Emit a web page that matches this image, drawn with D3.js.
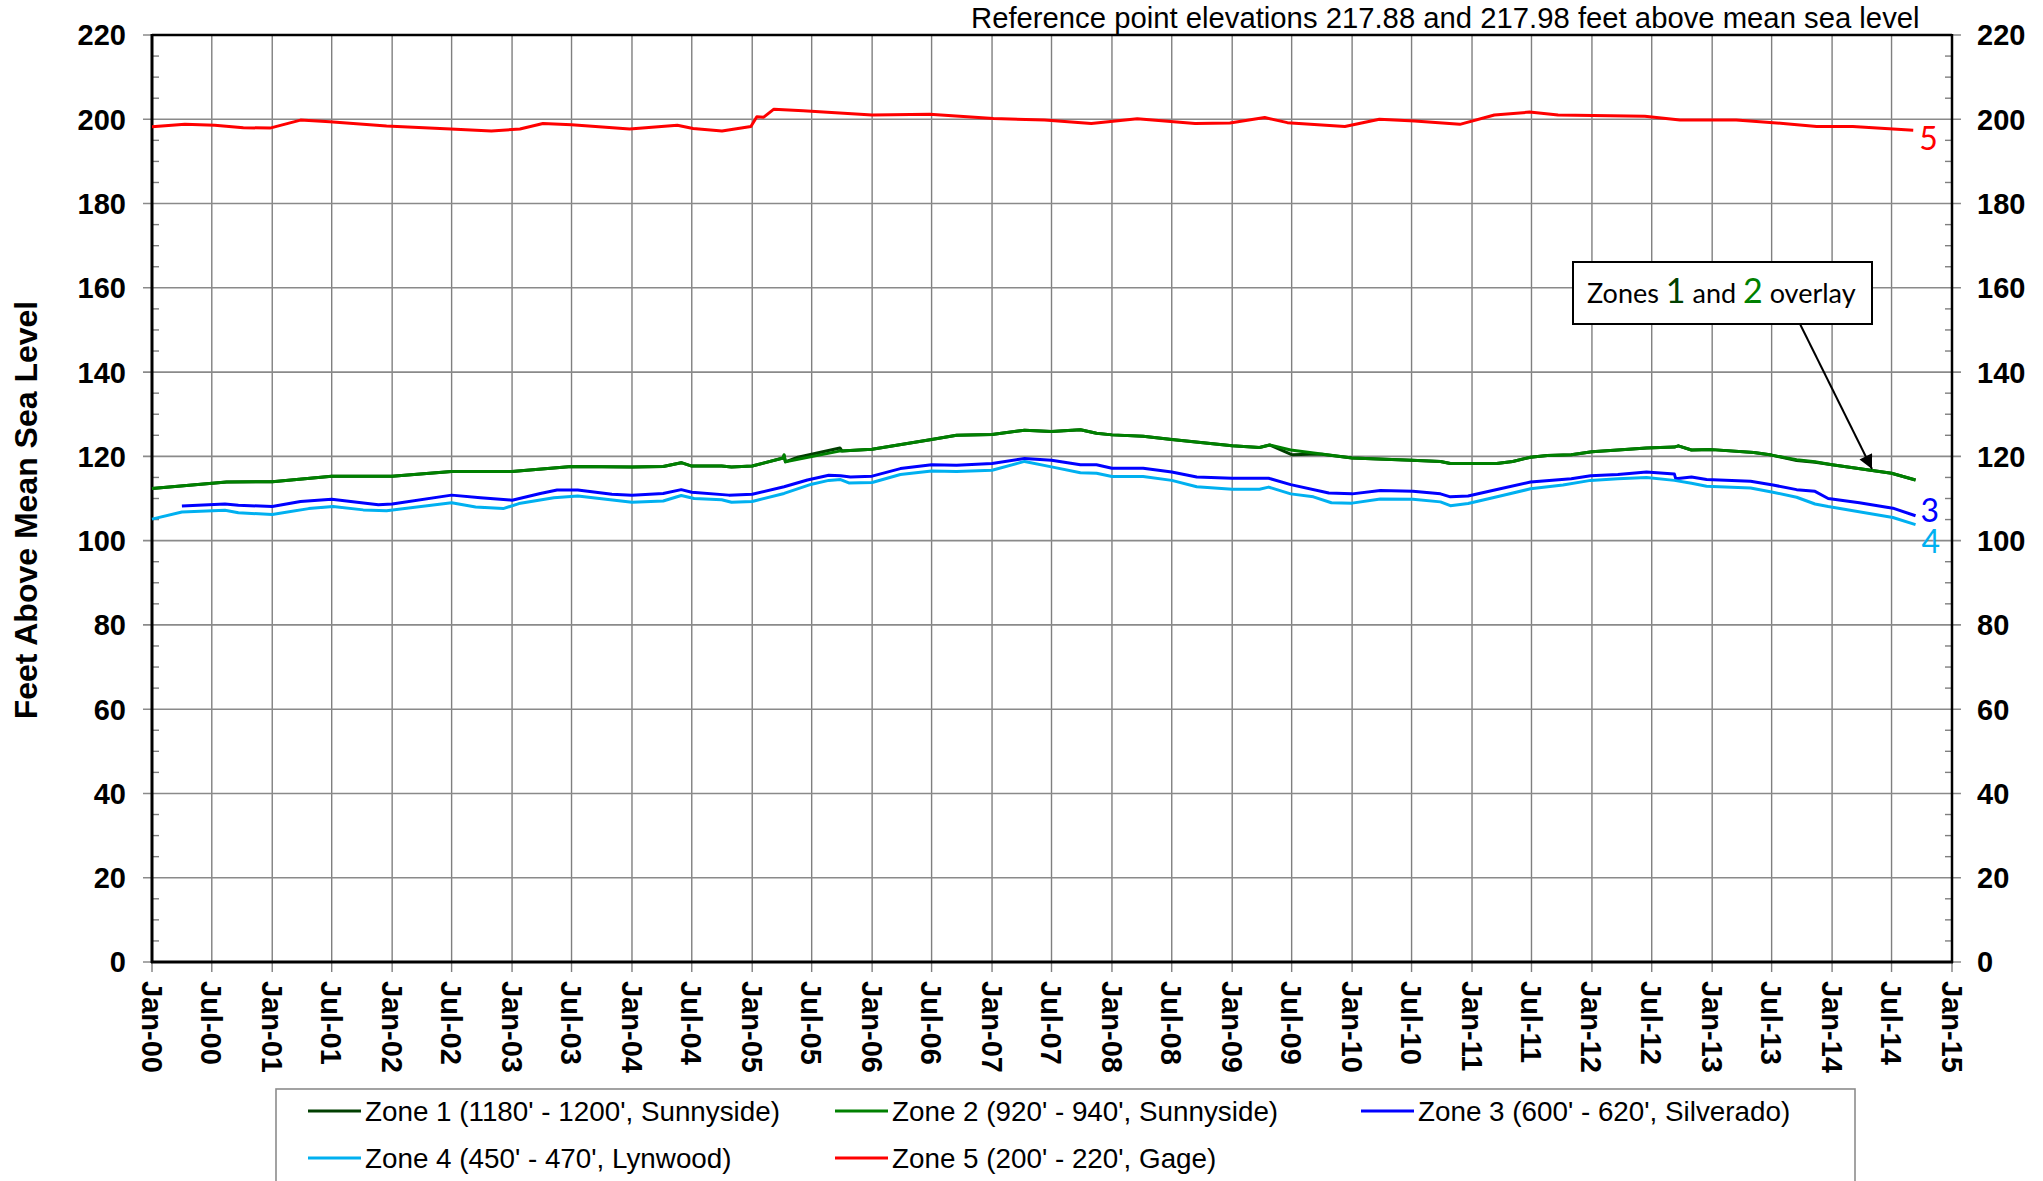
<!DOCTYPE html>
<html>
<head>
<meta charset="utf-8">
<script src="https://cdn.jsdelivr.net/npm/d3@7"></script>
<style>
  html, body { margin: 0; padding: 0; background: #fff; }
  svg { display: block; }
</style>
</head>
<body>
<script>
// ---------------- DATA ----------------
const titleText = "Reference point elevations 217.88 and 217.98 feet above mean sea level";
const yAxisTitle = "Feet Above Mean Sea Level";
const yTicks = [0, 20, 40, 60, 80, 100, 120, 140, 160, 180, 200, 220];
const xDomain = ["2000-01-01", "2015-01-01"];

const seriesNames = [
  "Zone 1 (1180' - 1200', Sunnyside)",
  "Zone 2 (920' - 940', Sunnyside)",
  "Zone 3 (600' - 620', Silverado)",
  "Zone 4 (450' - 470', Lynwood)",
  "Zone 5 (200' - 220', Gage)"
];
const seriesColors = ["#003f00", "#008000", "#0000ff", "#00b0f0", "#ff0000"];

const zone1 = [
  ["2000-01-01",112.4],["2000-08-15",113.9],["2001-01-01",114.0],["2001-07-01",115.3],["2002-01-01",115.3],
  ["2002-07-01",116.4],["2003-01-01",116.4],["2003-07-01",117.6],["2004-01-01",117.5],["2004-04-05",117.6],
  ["2004-05-30",118.5],["2004-07-01",117.7],["2004-09-30",117.7],["2004-10-30",117.5],["2005-01-01",117.7],
  ["2005-04-05",119.6],["2005-04-08",120.2],["2005-04-12",118.7],["2005-05-20",119.8],["2005-09-25",122.0],
  ["2005-10-01",121.3],["2006-01-01",121.7],["2006-07-01",124.0],["2006-09-15",125.0],["2007-01-01",125.2],
  ["2007-04-10",126.2],["2007-07-01",125.9],["2007-09-27",126.3],["2007-11-15",125.5],["2008-01-01",125.1],
  ["2008-04-05",124.8],["2008-07-01",124.0],["2009-01-01",122.5],["2009-03-25",122.1],["2009-04-25",122.7],
  ["2009-07-01",120.4],["2009-08-25",120.5],["2009-10-01",120.5],["2010-01-01",119.6],["2010-07-01",119.1],
  ["2010-09-27",118.8],["2010-10-27",118.3],["2011-03-17",118.3],["2011-05-05",118.8],["2011-06-28",119.8],
  ["2011-08-18",120.2],["2011-10-30",120.4],["2012-01-01",121.1],["2012-03-20",121.5],["2012-06-15",122.0],
  ["2012-09-08",122.2],["2012-09-20",122.5],["2012-10-30",121.5],["2013-01-01",121.6],["2013-05-08",120.9],
  ["2013-07-01",120.3],["2013-09-15",119.0],["2013-11-10",118.6],["2014-01-01",118.0],["2014-07-01",116.0],
  ["2014-09-12",114.4]
];
const zone2 = [
  ["2000-01-01",112.4],["2000-08-15",113.9],["2001-01-01",114.0],["2001-07-01",115.3],["2002-01-01",115.3],
  ["2002-07-01",116.4],["2003-01-01",116.4],["2003-07-01",117.6],["2004-01-01",117.5],["2004-04-05",117.6],
  ["2004-05-30",118.5],["2004-07-01",117.7],["2004-09-30",117.7],["2004-10-30",117.5],["2005-01-01",117.7],
  ["2005-04-05",119.6],["2005-04-08",120.4],["2005-04-12",118.7],["2005-09-27",121.3],["2006-01-01",121.7],
  ["2006-07-01",124.0],["2006-09-15",125.0],["2007-01-01",125.2],["2007-04-10",126.2],["2007-07-01",125.9],
  ["2007-09-27",126.3],["2007-11-15",125.5],["2008-01-01",125.1],["2008-04-05",124.8],["2008-07-01",124.0],
  ["2009-01-01",122.5],["2009-03-25",122.1],["2009-04-25",122.7],["2009-06-28",121.5],["2010-01-01",119.6],
  ["2010-07-01",119.1],["2010-09-27",118.8],["2010-10-27",118.3],["2011-03-17",118.3],["2011-05-05",118.8],
  ["2011-06-28",119.8],["2011-08-18",120.2],["2011-10-30",120.4],["2012-01-01",121.1],["2012-03-20",121.5],
  ["2012-06-15",122.0],["2012-09-08",122.2],["2012-09-20",122.5],["2012-10-30",121.5],["2013-01-01",121.6],
  ["2013-05-08",120.9],["2013-07-01",120.3],["2013-09-15",119.2],["2013-11-10",118.7],["2014-01-01",118.0],
  ["2014-07-01",116.0],["2014-09-12",114.4]
];
const zone3 = [
  ["2000-04-01",108.2],["2000-08-10",108.7],["2000-09-20",108.4],["2001-01-01",108.1],["2001-03-28",109.3],
  ["2001-07-01",109.8],["2001-08-28",109.3],["2001-11-20",108.5],["2002-01-01",108.7],["2002-07-01",110.8],
  ["2002-09-27",110.2],["2003-01-01",109.6],["2003-03-28",111.2],["2003-05-18",112.0],["2003-07-20",112.0],
  ["2003-11-01",111.0],["2004-01-01",110.8],["2004-04-05",111.2],["2004-05-30",112.1],["2004-07-01",111.5],
  ["2004-10-22",110.8],["2005-01-01",111.0],["2005-04-08",112.8],["2005-06-18",114.4],["2005-08-22",115.5],
  ["2005-09-27",115.4],["2005-10-27",115.1],["2006-01-01",115.3],["2006-03-28",117.1],["2006-07-01",118.0],
  ["2006-09-15",117.9],["2007-01-01",118.3],["2007-04-10",119.5],["2007-07-01",119.1],["2007-09-27",118.0],
  ["2007-11-15",118.0],["2008-01-01",117.2],["2008-04-05",117.2],["2008-07-01",116.3],["2008-09-15",115.1],
  ["2009-01-01",114.8],["2009-04-22",114.8],["2009-06-28",113.3],["2009-10-22",111.3],["2010-01-01",111.1],
  ["2010-03-28",111.9],["2010-07-05",111.7],["2010-09-27",111.1],["2010-10-27",110.4],["2010-12-20",110.6],
  ["2011-03-28",112.3],["2011-06-28",113.9],["2011-10-30",114.7],["2011-12-28",115.4],["2012-03-20",115.7],
  ["2012-06-15",116.3],["2012-09-08",115.8],["2012-09-12",114.7],["2012-10-30",115.1],["2012-12-15",114.5],
  ["2013-04-28",114.1],["2013-07-05",113.2],["2013-09-15",112.1],["2013-11-10",111.7],["2013-12-20",110.0],
  ["2014-03-25",109.0],["2014-07-05",107.7],["2014-09-12",105.9]
];
const zone4 = [
  ["2000-01-01",105.1],["2000-04-01",106.8],["2000-08-10",107.2],["2000-09-20",106.6],["2001-01-01",106.2],
  ["2001-04-22",107.6],["2001-07-05",108.1],["2001-10-05",107.3],["2001-12-15",107.1],["2002-07-01",109.0],
  ["2002-09-12",108.0],["2002-12-05",107.6],["2003-01-22",108.8],["2003-05-08",110.2],["2003-07-20",110.6],
  ["2004-01-01",109.1],["2004-04-05",109.4],["2004-05-30",110.7],["2004-07-08",110.0],["2004-09-30",109.7],
  ["2004-10-30",109.1],["2005-01-01",109.3],["2005-04-08",111.2],["2005-07-01",113.4],["2005-08-22",114.3],
  ["2005-09-27",114.5],["2005-10-22",113.7],["2006-01-01",113.8],["2006-03-28",115.7],["2006-07-01",116.5],
  ["2006-09-15",116.4],["2007-01-01",116.7],["2007-04-10",118.8],["2007-07-01",117.5],["2007-09-27",116.1],
  ["2007-11-15",116.0],["2008-01-01",115.2],["2008-04-05",115.2],["2008-07-01",114.3],["2008-09-15",112.8],
  ["2009-01-01",112.2],["2009-03-25",112.2],["2009-04-22",112.7],["2009-06-28",111.1],["2009-09-05",110.4],
  ["2009-10-30",109.0],["2010-01-01",108.9],["2010-03-28",109.9],["2010-07-05",109.8],["2010-09-27",109.2],
  ["2010-10-27",108.3],["2010-12-20",108.8],["2011-03-28",110.6],["2011-06-28",112.3],["2011-10-05",113.2],
  ["2011-12-28",114.3],["2012-03-20",114.7],["2012-06-15",115.0],["2012-09-08",114.3],["2012-10-30",113.6],
  ["2012-12-15",112.9],["2013-04-28",112.5],["2013-07-05",111.5],["2013-09-15",110.3],["2013-11-10",108.7],
  ["2013-12-20",108.1],["2014-07-05",105.5],["2014-09-12",103.8]
];
const zone5 = [
  ["2000-01-01",198.2],["2000-04-10",198.8],["2000-07-10",198.6],["2000-10-05",198.0],["2000-12-25",197.9],
  ["2001-03-28",199.8],["2001-06-25",199.4],["2001-12-15",198.4],["2002-06-28",197.7],["2002-10-30",197.2],
  ["2003-01-25",197.7],["2003-04-05",199.0],["2003-07-01",198.7],["2003-12-25",197.7],["2004-05-18",198.6],
  ["2004-07-05",197.8],["2004-10-01",197.2],["2004-12-28",198.3],["2005-01-15",200.6],["2005-02-05",200.5],
  ["2005-03-08",202.4],["2005-06-05",202.0],["2006-01-01",201.0],["2006-06-25",201.2],["2007-01-05",200.2],
  ["2007-06-10",199.8],["2007-10-30",199.0],["2008-03-18",200.1],["2008-09-10",199.0],["2008-12-25",199.1],
  ["2009-04-10",200.4],["2009-06-18",199.2],["2009-12-10",198.3],["2010-03-25",200.0],["2010-07-10",199.6],
  ["2010-11-25",198.8],["2011-03-10",201.0],["2011-06-25",201.7],["2011-09-20",201.0],["2012-06-10",200.7],
  ["2012-09-25",199.8],["2013-03-15",199.8],["2013-08-05",199.0],["2013-11-15",198.3],["2014-03-05",198.3],
  ["2014-09-05",197.4]
];
const seriesData = [zone1, zone2, zone3, zone4, zone5];

const endLabels = [
  { text: "5", series: 4, color: "#ff0000" },
  { text: "3", series: 2, color: "#0000ff" },
  { text: "4", series: 3, color: "#00b0f0" }
];

// ---------------- LAYOUT ----------------
const W = 2043, H = 1181;
const L = 152, R = 1952, T = 35, B = 962;
const parse = d3.timeParse("%Y-%m-%d");
const fmt = d3.timeFormat("%b-%y");

const x = d3.scaleTime().domain(xDomain.map(parse)).range([L, R]);
const y = d3.scaleLinear().domain([0, 220]).range([B, T]);

const svg = d3.select("body").append("svg").attr("width", W).attr("height", H)
  .style("font-family", "'Liberation Sans', Arial, sans-serif");

const xTickDates = d3.timeMonth.every(6).range(parse(xDomain[0]), d3.timeDay.offset(parse(xDomain[1]), 1));
const minorY = d3.range(0, 221, 5).filter(v => v % 20 !== 0);

// gridlines
const grid = svg.append("g");
grid.selectAll("line.vx").data(xTickDates).join("line")
  .attr("x1", d => x(d)).attr("x2", d => x(d)).attr("y1", T).attr("y2", B + 10)
  .attr("stroke", "#7f7f7f").attr("stroke-width", 1.4);
grid.selectAll("line.hy").data(yTicks).join("line")
  .attr("x1", L - 9).attr("x2", R + 9).attr("y1", d => y(d)).attr("y2", d => y(d))
  .attr("stroke", "#8a8a8a").attr("stroke-width", 1.6);

// minor ticks (inside)
grid.selectAll("line.ml").data(minorY).join("line")
  .attr("x1", L).attr("x2", L + 7).attr("y1", d => y(d)).attr("y2", d => y(d))
  .attr("stroke", "#7f7f7f").attr("stroke-width", 1.4);
grid.selectAll("line.mr").data(minorY).join("line")
  .attr("x1", R - 7).attr("x2", R).attr("y1", d => y(d)).attr("y2", d => y(d))
  .attr("stroke", "#7f7f7f").attr("stroke-width", 1.4);

// frame
svg.append("line").attr("x1", L).attr("x2", L).attr("y1", T - 1).attr("y2", B + 1).attr("stroke", "#000").attr("stroke-width", 3);
svg.append("line").attr("x1", R).attr("x2", R).attr("y1", T - 1).attr("y2", B + 1).attr("stroke", "#000").attr("stroke-width", 2.5);
svg.append("line").attr("x1", L).attr("x2", R).attr("y1", T).attr("y2", T).attr("stroke", "#000").attr("stroke-width", 2.5);
svg.append("line").attr("x1", L - 1).attr("x2", R + 1).attr("y1", B).attr("y2", B).attr("stroke", "#000").attr("stroke-width", 3);

// y tick labels
const boldFont = "bold 29px 'Liberation Sans', Arial, sans-serif";
svg.append("g").selectAll("text").data(yTicks).join("text")
  .attr("x", L - 26).attr("y", d => y(d)).attr("dy", "0.36em")
  .attr("text-anchor", "end").style("font", boldFont).text(d => d);
svg.append("g").selectAll("text").data(yTicks).join("text")
  .attr("x", R + 25).attr("y", d => y(d)).attr("dy", "0.36em")
  .attr("text-anchor", "start").style("font", boldFont).text(d => d);

// x tick labels (rotated)
svg.append("g").selectAll("text").data(xTickDates).join("text")
  .attr("transform", d => `translate(${x(d)},${B + 19}) rotate(90)`)
  .attr("dy", "0.36em").attr("text-anchor", "start")
  .style("font", boldFont).text(d => fmt(d));

// y axis title
svg.append("text")
  .attr("transform", `translate(37,510) rotate(-90)`)
  .attr("text-anchor", "middle")
  .style("font", "bold 32px 'Liberation Sans', Arial, sans-serif")
  .text(yAxisTitle);

// top title
const title = svg.append("text").attr("x", 971).attr("y", 28)
  .style("font", "29px 'Liberation Sans', Arial, sans-serif").text(titleText);
const tw = title.node().getComputedTextLength();
title.style("font-size", (29 * 949 / tw).toFixed(2) + "px");

// series lines
const line = d3.line().x(d => x(parse(d[0]))).y(d => y(d[1]));
svg.append("g").selectAll("path").data(seriesData).join("path")
  .attr("d", d => line(d)).attr("fill", "none")
  .attr("stroke", (d, i) => seriesColors[i]).attr("stroke-width", 3)
  .attr("stroke-linejoin", "round");

// end labels
const labelFont = "Lato, 'Open Sans', sans-serif";
const endOffsets = { "5": [6, 9], "3": [5, -5], "4": [6, 17] };
svg.append("g").selectAll("text").data(endLabels).join("text")
  .attr("x", d => { const s = seriesData[d.series]; return x(parse(s[s.length - 1][0])) + endOffsets[d.text][0]; })
  .attr("y", d => { const s = seriesData[d.series]; return y(s[s.length - 1][1]) + endOffsets[d.text][1]; })
  .attr("dy", "0.35em")
  .style("font-family", labelFont).style("font-size", "32px")
  .attr("fill", d => d.color).text(d => d.text);

// annotation box and arrow
const defs = svg.append("defs");
defs.append("marker").attr("id", "arr").attr("viewBox", "0 0 10 10")
  .attr("refX", 10).attr("refY", 5).attr("markerWidth", 18).attr("markerHeight", 14)
  .attr("markerUnits", "userSpaceOnUse").attr("orient", "auto")
  .append("path").attr("d", "M0,0 L10,5 L0,10 Z").attr("fill", "#000");
svg.append("line").attr("x1", 1800).attr("y1", 324).attr("x2", 1872).attr("y2", 469)
  .attr("stroke", "#000").attr("stroke-width", 2).attr("marker-end", "url(#arr)");
svg.append("rect").attr("x", 1573).attr("y", 262).attr("width", 299).attr("height", 62)
  .attr("fill", "#fff").attr("stroke", "#000").attr("stroke-width", 2);
const ann = svg.append("text").attr("x", 1587).attr("y", 303)
  .style("font-family", labelFont).style("font-size", "27px").attr("fill", "#000");
ann.append("tspan").text("Zones ");
ann.append("tspan").attr("fill", seriesColors[0]).style("font-size", "34px").text("1");
ann.append("tspan").text(" and ");
ann.append("tspan").attr("fill", seriesColors[1]).style("font-size", "34px").text("2");
ann.append("tspan").text(" overlay");

// legend
const legend = svg.append("g");
legend.append("rect").attr("x", 276).attr("y", 1089).attr("width", 1579).attr("height", 130)
  .attr("fill", "#fff").attr("stroke", "#8c8c8c").attr("stroke-width", 1.6);
const legPos = [[308, 1111], [835, 1111], [1361, 1111], [308, 1158], [835, 1158]];
const items = legend.selectAll("g.item").data(seriesNames).join("g")
  .attr("transform", (d, i) => `translate(${legPos[i][0]},${legPos[i][1]})`);
items.append("line").attr("x1", 0).attr("x2", 53).attr("y1", 0).attr("y2", 0)
  .attr("stroke", (d, i) => seriesColors[i]).attr("stroke-width", 3);
items.append("text").attr("x", 57).attr("dy", "0.36em")
  .style("font", "27.8px 'Liberation Sans', Arial, sans-serif").text(d => d);
</script>
</body>
</html>
